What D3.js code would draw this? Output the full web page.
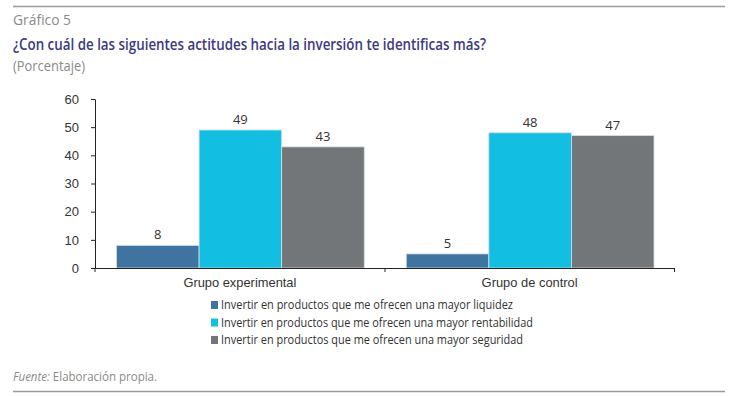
<!DOCTYPE html>
<html><head><meta charset="utf-8">
<script src="https://cdn.jsdelivr.net/npm/d3@7"></script>
<style>body{margin:0;background:#fff;} svg{display:block;font-family:"Open Sans","Noto Sans",sans-serif;}</style>
</head><body>
<svg id="c" width="738" height="396"></svg>
<script>
const groups = ["Grupo experimental", "Grupo de control"];
const seriesNames = [
  "Invertir en productos que me ofrecen una mayor liquidez",
  "Invertir en productos que me ofrecen una mayor rentabilidad",
  "Invertir en productos que me ofrecen una mayor seguridad"
];
const liquidez = [8, 5];
const rentabilidad = [49, 48];
const seguridad = [43, 47];
const colors = ["#3f74a1", "#12bfe3", "#737678"];
const yTicks = [0, 10, 20, 30, 40, 50, 60];

const values = [liquidez, rentabilidad, seguridad];
const svg = d3.select("#c");

// header rules and titles
svg.append("line").attr("x1",13).attr("x2",725).attr("y1",6.5).attr("y2",6.5).attr("stroke","#9a9a9a").attr("stroke-width",1.5);
svg.append("line").attr("x1",13).attr("x2",725).attr("y1",391.5).attr("y2",391.5).attr("stroke","#9a9a9a").attr("stroke-width",1.5);
svg.append("text").attr("x",13).attr("y",25).attr("font-size",14).attr("fill","#8a8a8a").text("Gráfico 5")
  .attr("textLength",58).attr("lengthAdjust","spacingAndGlyphs");
svg.append("text").attr("x",13).attr("y",50).attr("font-size",17).attr("fill","#3c3a80").attr("font-weight",600)
  .text("¿Con cuál de las siguientes actitudes hacia la inversión te identificas más?")
  .attr("textLength",473).attr("lengthAdjust","spacingAndGlyphs");
svg.append("text").attr("x",13).attr("y",71).attr("font-size",14).attr("fill","#8a8a8a").text("(Porcentaje)")
  .attr("textLength",72).attr("lengthAdjust","spacingAndGlyphs");
const fu = svg.append("text").attr("x",13).attr("y",381).attr("font-size",12).attr("fill","#8a8a8a")
  .attr("textLength",144).attr("lengthAdjust","spacingAndGlyphs");
fu.append("tspan").attr("font-style","italic").text("Fuente:");
fu.append("tspan").text(" Elaboración propia.");

const x0 = d3.scaleBand().domain(groups).range([95, 674.5]).paddingInner(0).paddingOuter(0);
const x1 = d3.scaleBand().domain(d3.range(3)).range([21.5, x0.bandwidth()-20.5]);
const y = d3.scaleLinear().domain([0, 60]).range([268, 99]);

// y axis
const ya = svg.append("g").attr("transform","translate(95,0)")
  .call(d3.axisLeft(y).tickValues(yTicks).tickSize(4).tickSizeOuter(0));
ya.select(".domain").attr("stroke","#222");
ya.selectAll(".tick line").attr("stroke","#222");
ya.selectAll(".tick text").attr("font-size",13).attr("fill","#333").attr("x",-16);

// bars
const g = svg.append("g");
groups.forEach((grp, gi) => {
  values.forEach((arr, si) => {
    const bx = x0(grp) + x1(si);
    g.append("rect").attr("x", bx).attr("y", y(arr[gi])).attr("width", x1.bandwidth())
      .attr("height", y(0) - y(arr[gi])).attr("fill", colors[si])
      .attr("stroke","#d6dde3").attr("stroke-width",0.8);
    g.append("text").attr("x", bx + x1.bandwidth()/2).attr("y", y(arr[gi]) - 6)
      .attr("text-anchor","middle").attr("font-size",13).attr("fill","#333").text(arr[gi]);
  });
});

// x axis
const labelW = {"Grupo experimental":113, "Grupo de control":96};
const xa = svg.append("g").attr("transform","translate(0,268)")
  .call(d3.axisBottom(x0).tickSize(0).tickSizeOuter(0));
xa.select(".domain").attr("stroke","#222").attr("stroke-width",1.2);
xa.selectAll(".tick text").attr("font-size",13).attr("fill","#333").attr("dy","1.25em")
  .attr("textLength",d=>labelW[d]).attr("lengthAdjust","spacingAndGlyphs");
const xb = [95, 385, 674.5];
svg.append("g").selectAll("line").data(xb).join("line")
  .attr("x1",d=>d).attr("x2",d=>d).attr("y1",268).attr("y2",272).attr("stroke","#222");

// legend
const legW = [292, 312, 302];
const lg = svg.append("g");
seriesNames.forEach((s, i) => {
  const ly = 305 + i*17.5;
  lg.append("rect").attr("x",211).attr("y",ly-4).attr("width",7).attr("height",8).attr("fill",colors[i]);
  lg.append("text").attr("x",221).attr("y",ly+4).attr("font-size",12.5).attr("fill","#333").text(s)
    .attr("textLength",legW[i]).attr("lengthAdjust","spacingAndGlyphs");
});
</script>
</body></html>
